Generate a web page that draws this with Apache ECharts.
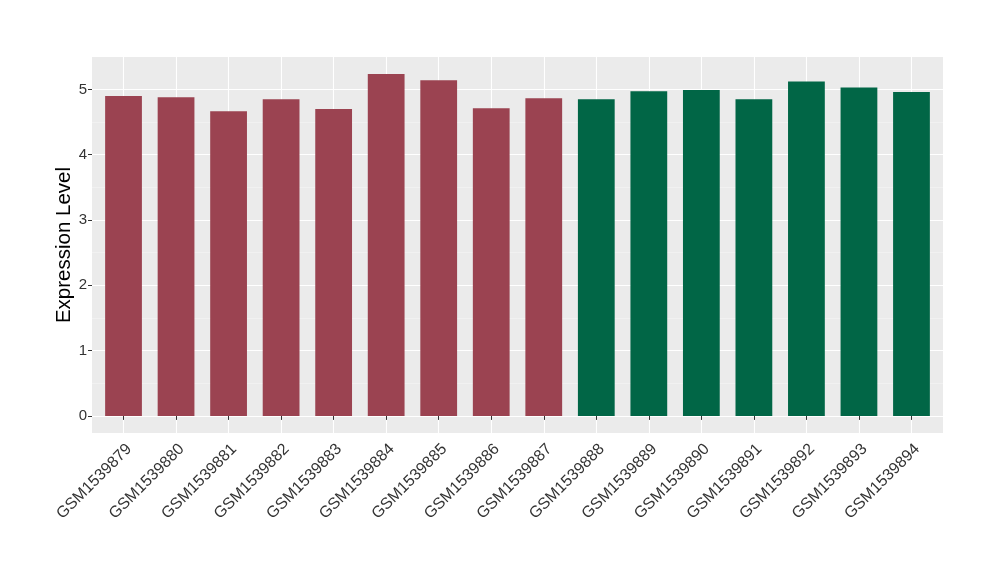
<!DOCTYPE html>
<html>
<head>
<meta charset="utf-8">
<script src="https://cdn.jsdelivr.net/npm/echarts@6/dist/echarts.min.js"></script>
<style>
html,body{margin:0;padding:0;background:#fff;}
#chart{width:1000px;height:580px;}
</style>
</head>
<body>
<div id="chart"></div>
<script>
const categories = ["GSM1539879","GSM1539880","GSM1539881","GSM1539882","GSM1539883","GSM1539884","GSM1539885","GSM1539886","GSM1539887","GSM1539888","GSM1539889","GSM1539890","GSM1539891","GSM1539892","GSM1539893","GSM1539894"];
const values = [4.90, 4.88, 4.665, 4.85, 4.70, 5.234, 5.14, 4.71, 4.865, 4.85, 4.97, 4.99, 4.85, 5.12, 5.03, 4.96];
const groups = ["A","A","A","A","A","A","A","A","A","B","B","B","B","B","B","B"];
const groupColors = {A: "#9B4351", B: "#016646"};
const yTitle = "Expression Level";

const maxV = Math.max.apply(null, values);
const yMin = -0.05 * maxV, yMax = 1.05 * maxV;

const panelLeft = 92, panelTop = 57, panelW = 851, panelH = 376;
const unit = panelW / (categories.length + 0.2);
const posH = panelH * yMax / (yMax - yMin);
const font = "Liberation Sans, Arial, Helvetica, sans-serif";
const txt = '#333333';

const chart = echarts.init(document.getElementById('chart'), null, {renderer: 'canvas'});
chart.setOption({
  animation: false,
  backgroundColor: '#ffffff',
  grid: [
    // panel background
    {left: panelLeft, top: panelTop, width: panelW, height: panelH, show: true, backgroundColor: '#EBEBEB', borderWidth: 0},
    // y scale grid: full width, from 0 upwards
    {left: panelLeft, top: panelTop, width: panelW, height: posH, show: false},
    // bars grid: inset width, full height
    {left: panelLeft + 0.1 * unit, top: panelTop, width: panelW - 0.2 * unit, height: panelH, show: false}
  ],
  xAxis: [
    {gridIndex: 0, type: 'value', show: false, min: 0, max: 1},
    {gridIndex: 1, type: 'value', show: false, min: 0, max: 1},
    {gridIndex: 2, type: 'category', data: categories, boundaryGap: true,
     axisLine: {show: false},
     axisTick: {show: true, alignWithLabel: true, length: 4, lineStyle: {color: '#333333', width: 1}},
     axisLabel: {rotate: 45, interval: 0, margin: 8, color: txt, fontSize: 16, fontFamily: font, align: 'right', verticalAlign: 'top'},
     splitLine: {show: true, alignWithLabel: true, lineStyle: {color: '#ffffff', width: 1.1}}
    }
  ],
  yAxis: [
    {gridIndex: 0, type: 'value', min: 0, max: 1,
     name: yTitle, nameLocation: 'middle', nameGap: 17,
     nameTextStyle: {fontSize: 20.5, color: '#000000', fontFamily: font},
     axisLine: {show: false}, axisTick: {show: false}, axisLabel: {show: false}, splitLine: {show: false}
    },
    {gridIndex: 1, type: 'value', min: 0, max: yMax, interval: 1,
     axisLine: {show: false},
     axisTick: {show: true, length: 4, lineStyle: {color: '#333333', width: 1}},
     axisLabel: {color: txt, fontSize: 15, fontFamily: font, margin: 5, showMaxLabel: false,
       formatter: v => (Math.abs(v - Math.round(v)) < 1e-9 ? String(Math.round(v)) : '')},
     splitLine: {show: true, showMaxLine: false, lineStyle: {color: '#ffffff', width: 1.1}},
     minorTick: {show: false, splitNumber: 2},
     minorSplitLine: {show: true, lineStyle: {color: '#F5F5F5', width: 0.6}}
    },
    {gridIndex: 2, type: 'value', min: yMin, max: yMax, show: false}
  ],
  series: [{
    type: 'bar',
    xAxisIndex: 2, yAxisIndex: 2,
    barWidth: '70%',
    data: values.map((v, i) => ({value: v, itemStyle: {color: groupColors[groups[i]]}}))
  }]
});
</script>
</body>
</html>
